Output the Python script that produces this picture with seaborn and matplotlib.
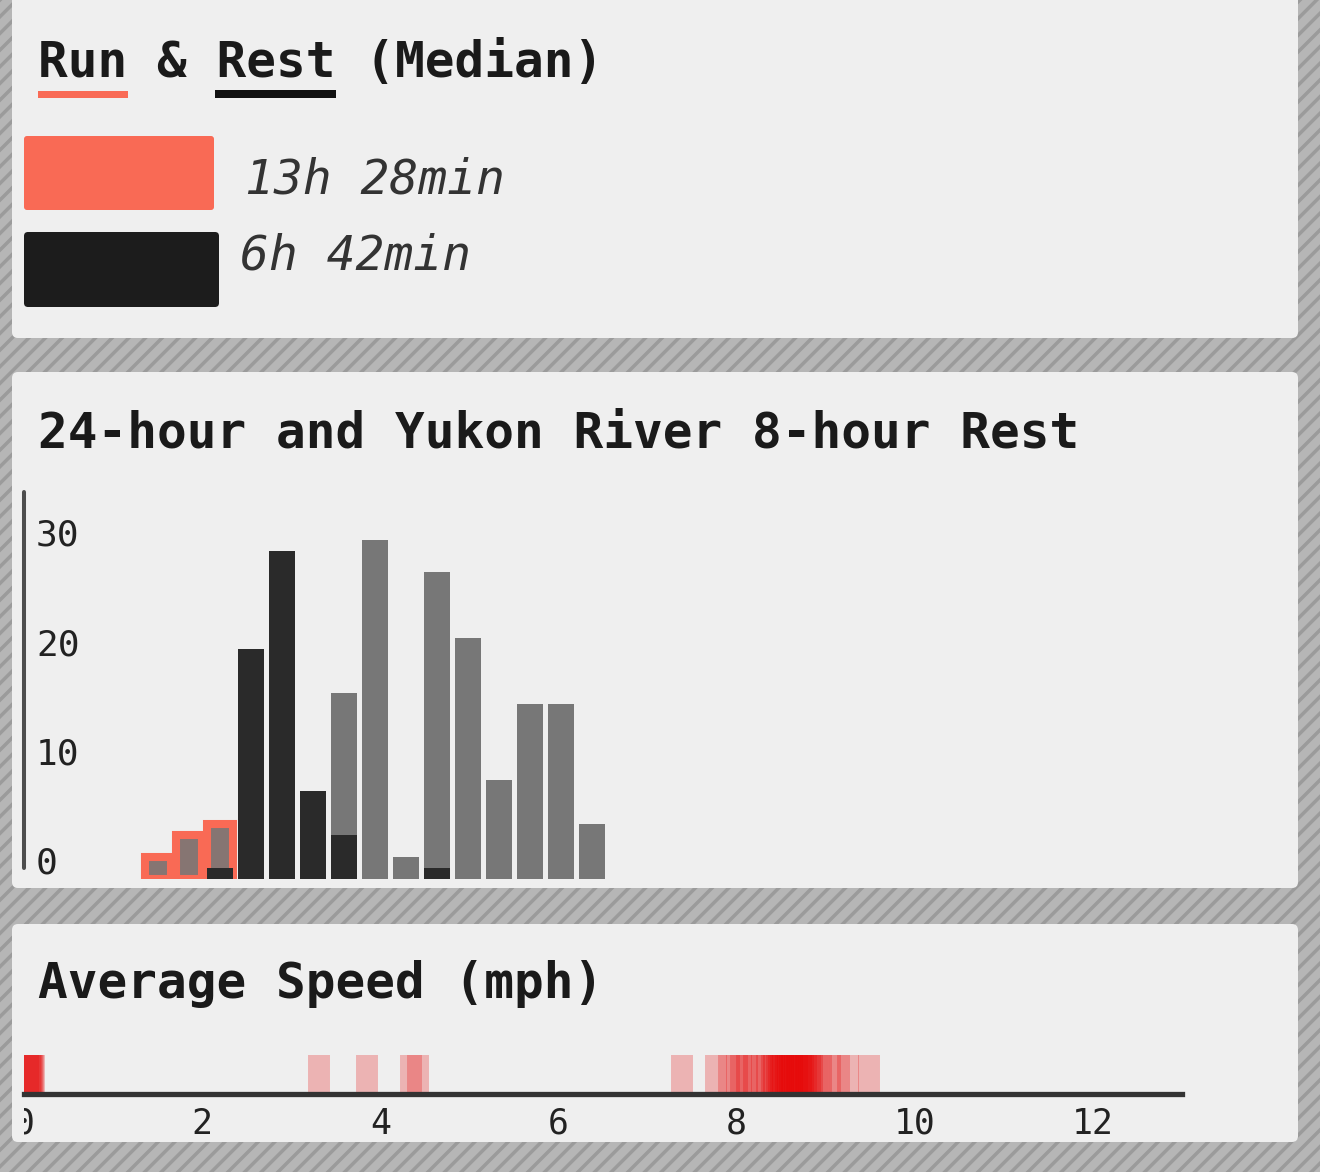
import numpy as np
import pandas as pd
import seaborn as sns
import matplotlib.pyplot as plt
from matplotlib.patches import FancyBboxPatch, Rectangle
from matplotlib.transforms import offset_copy, Bbox, TransformedBbox

# Daten
run_median = "13h 28min"
rest_median = "6h 42min"

rest_bins = list(range(15))
all_counts = [2, 4, 5, 0, 0, 0, 17, 31, 2, 28, 22, 9, 16, 16, 5]
run_counts = [2, 4, 5, 0, 0, 0, 0, 0, 0, 0, 0, 0, 0, 0, 0]
rest_counts = [0, 0, 1, 21, 30, 8, 4, 0, 0, 1, 0, 0, 0, 0, 0]
count_ticks = [0, 10, 20, 30]

speeds = [0.05, 0.07, 0.08, 0.09, 0.1, 0.11,
          3.31, 3.85, 4.35, 4.42,
          7.39, 7.77, 7.92, 8.0, 8.05, 8.12, 8.2, 8.28, 8.34, 8.4, 8.42,
          8.45, 8.48, 8.5, 8.52, 8.55, 8.58, 8.6, 8.62, 8.65, 8.68, 8.7,
          8.72, 8.75, 8.78, 8.8, 8.82, 8.85, 8.9, 8.95, 9.05, 9.15, 9.25, 9.49]
speed_ticks = [0, 2, 4, 6, 8, 10, 12]

# Farben
RED = "#f96a55"
DARK = "#2a2a2a"
GREY = "#777777"
PANEL = "#efefef"

W, H = 1320, 1172


def px_axes(left, top, right, bottom):
    return [left / W, 1 - bottom / H, (right - left) / W, (bottom - top) / H]


sns.set_style("white")
plt.rcParams["font.family"] = ["DejaVu Sans Mono", "DejaVu Sans"]
plt.rcParams["hatch.linewidth"] = 2.5

fig = plt.figure(figsize=(W / 100, H / 100), dpi=100)

# Hintergrund mit Schraffur und Panels
bg = fig.add_axes([0, 0, 1, 1], zorder=0)
bg.set_xlim(0, W)
bg.set_ylim(H, 0)
bg.axis("off")
bg.add_patch(Rectangle((0, 0), W, H, facecolor="#b6b6b6", edgecolor="#9b9b9b",
                       hatch="//", lw=0))
for top, bottom in [(-10, 338), (372, 888), (924, 1142)]:
    bg.add_patch(FancyBboxPatch((12, top), 1286, bottom - top,
                                boxstyle="round,pad=0,rounding_size=6",
                                facecolor=PANEL, edgecolor="none"))

# Panel 1: Run & Rest
bg.text(38, 77, "Run & Rest (Median)", fontsize=35.6, fontweight="bold",
        color="#1a1a1a", va="baseline")
bg.add_patch(Rectangle((38, 91), 90, 7, facecolor=RED, lw=0))
bg.add_patch(Rectangle((215, 90), 121, 8, facecolor="#111111", lw=0))
bg.add_patch(FancyBboxPatch((24, 136), 190, 74, boxstyle="round,pad=0,rounding_size=3",
                            facecolor=RED, edgecolor="none"))
bg.add_patch(FancyBboxPatch((24, 232), 195, 75, boxstyle="round,pad=0,rounding_size=4",
                            facecolor="#1c1c1c", edgecolor="none"))
bg.text(245, 193, run_median, fontsize=34.6, fontstyle="italic", color="#333333",
        va="baseline")
bg.text(240, 270, rest_median, fontsize=34.6, fontstyle="italic", color="#333333",
        va="baseline")

# Panel 2: Histogramm
bg.text(38, 447, "24-hour and Yukon River 8-hour Rest", fontsize=35.6,
        fontweight="bold", color="#1a1a1a", va="baseline")

ax = fig.add_axes(px_axes(24, 480, 1290, 879), zorder=1)
ax.patch.set_alpha(0)

idx = [b for b, c in zip(rest_bins, all_counts) if c > 0]
sns.barplot(x=idx, y=[all_counts[b] for b in idx], native_scale=True, width=0.84,
            color=GREY, saturation=1, errorbar=None, linewidth=0, ax=ax)

n1 = len(ax.patches)
idx = [b for b, c in zip(rest_bins, run_counts) if c > 0]
sns.barplot(x=idx, y=[run_counts[b] for b in idx], native_scale=True, width=0.84,
            color=RED, saturation=1, errorbar=None, ax=ax)
for p in ax.patches[n1:]:
    p.set_facecolor((0.98, 0.42, 0.33, 0.12))
    p.set_edgecolor(RED)
    p.set_linewidth(5.8)

idx = [b for b, c in zip(rest_bins, rest_counts) if c > 0]
sns.barplot(x=idx, y=[rest_counts[b] for b in idx], native_scale=True, width=0.84,
            color=DARK, saturation=1, errorbar=None, linewidth=0, ax=ax)

ax.set_xlim((24 - 158) / 31, (1290 - 158) / 31)
ax.set_ylim(0, (879 - 480) / 10.95)
ax.set(xlabel="", ylabel="", xticks=[], yticks=[])
for s in ["top", "right", "bottom"]:
    ax.spines[s].set_visible(False)
ax.spines["left"].set_bounds(1.0, 35.3)
ax.spines["left"].set_linewidth(2.9)
ax.spines["left"].set_color("#4d4d4d")
ax.spines["left"].set_capstyle("round")
tick_tr = offset_copy(ax.get_yaxis_transform(), fig=fig, x=12, y=15, units="dots")
for t in count_ticks:
    ax.text(0, t, str(t), transform=tick_tr, fontsize=26, color="#222222",
            ha="left", va="center")

# Panel 3: Durchschnittsgeschwindigkeit
bg.text(38, 998, "Average Speed (mph)", fontsize=35.6, fontweight="bold",
        color="#1a1a1a", va="baseline")

ax2 = fig.add_axes(px_axes(24, 1055, 1182, 1094), zorder=1)
ax2.patch.set_alpha(0)
sns.rugplot(x=speeds, height=1.0, color="#e60000", alpha=0.25, linewidth=15.8,
            expand_margins=False, ax=ax2)
ax2.set_xlim(0, 13)
ax2.set_ylim(0, 1)
ax2.set(xlabel="", ylabel="", yticks=[])
ax2.set_xticks(speed_ticks)
ax2.set_xticklabels([str(t) for t in speed_ticks])
ax2.tick_params(axis="x", length=0, pad=9, labelsize=25, labelcolor="#222222")
for s in ["top", "right", "left"]:
    ax2.spines[s].set_visible(False)
ax2.spines["bottom"].set_linewidth(3.8)
ax2.spines["bottom"].set_color("#333333")
clip = TransformedBbox(Bbox([[0, -5], [1.5, 5]]), ax2.transAxes)
for lbl in ax2.get_xticklabels():
    lbl.set_clip_box(clip)
    lbl.set_clip_on(True)

fig.savefig("out.png", dpi=100)
